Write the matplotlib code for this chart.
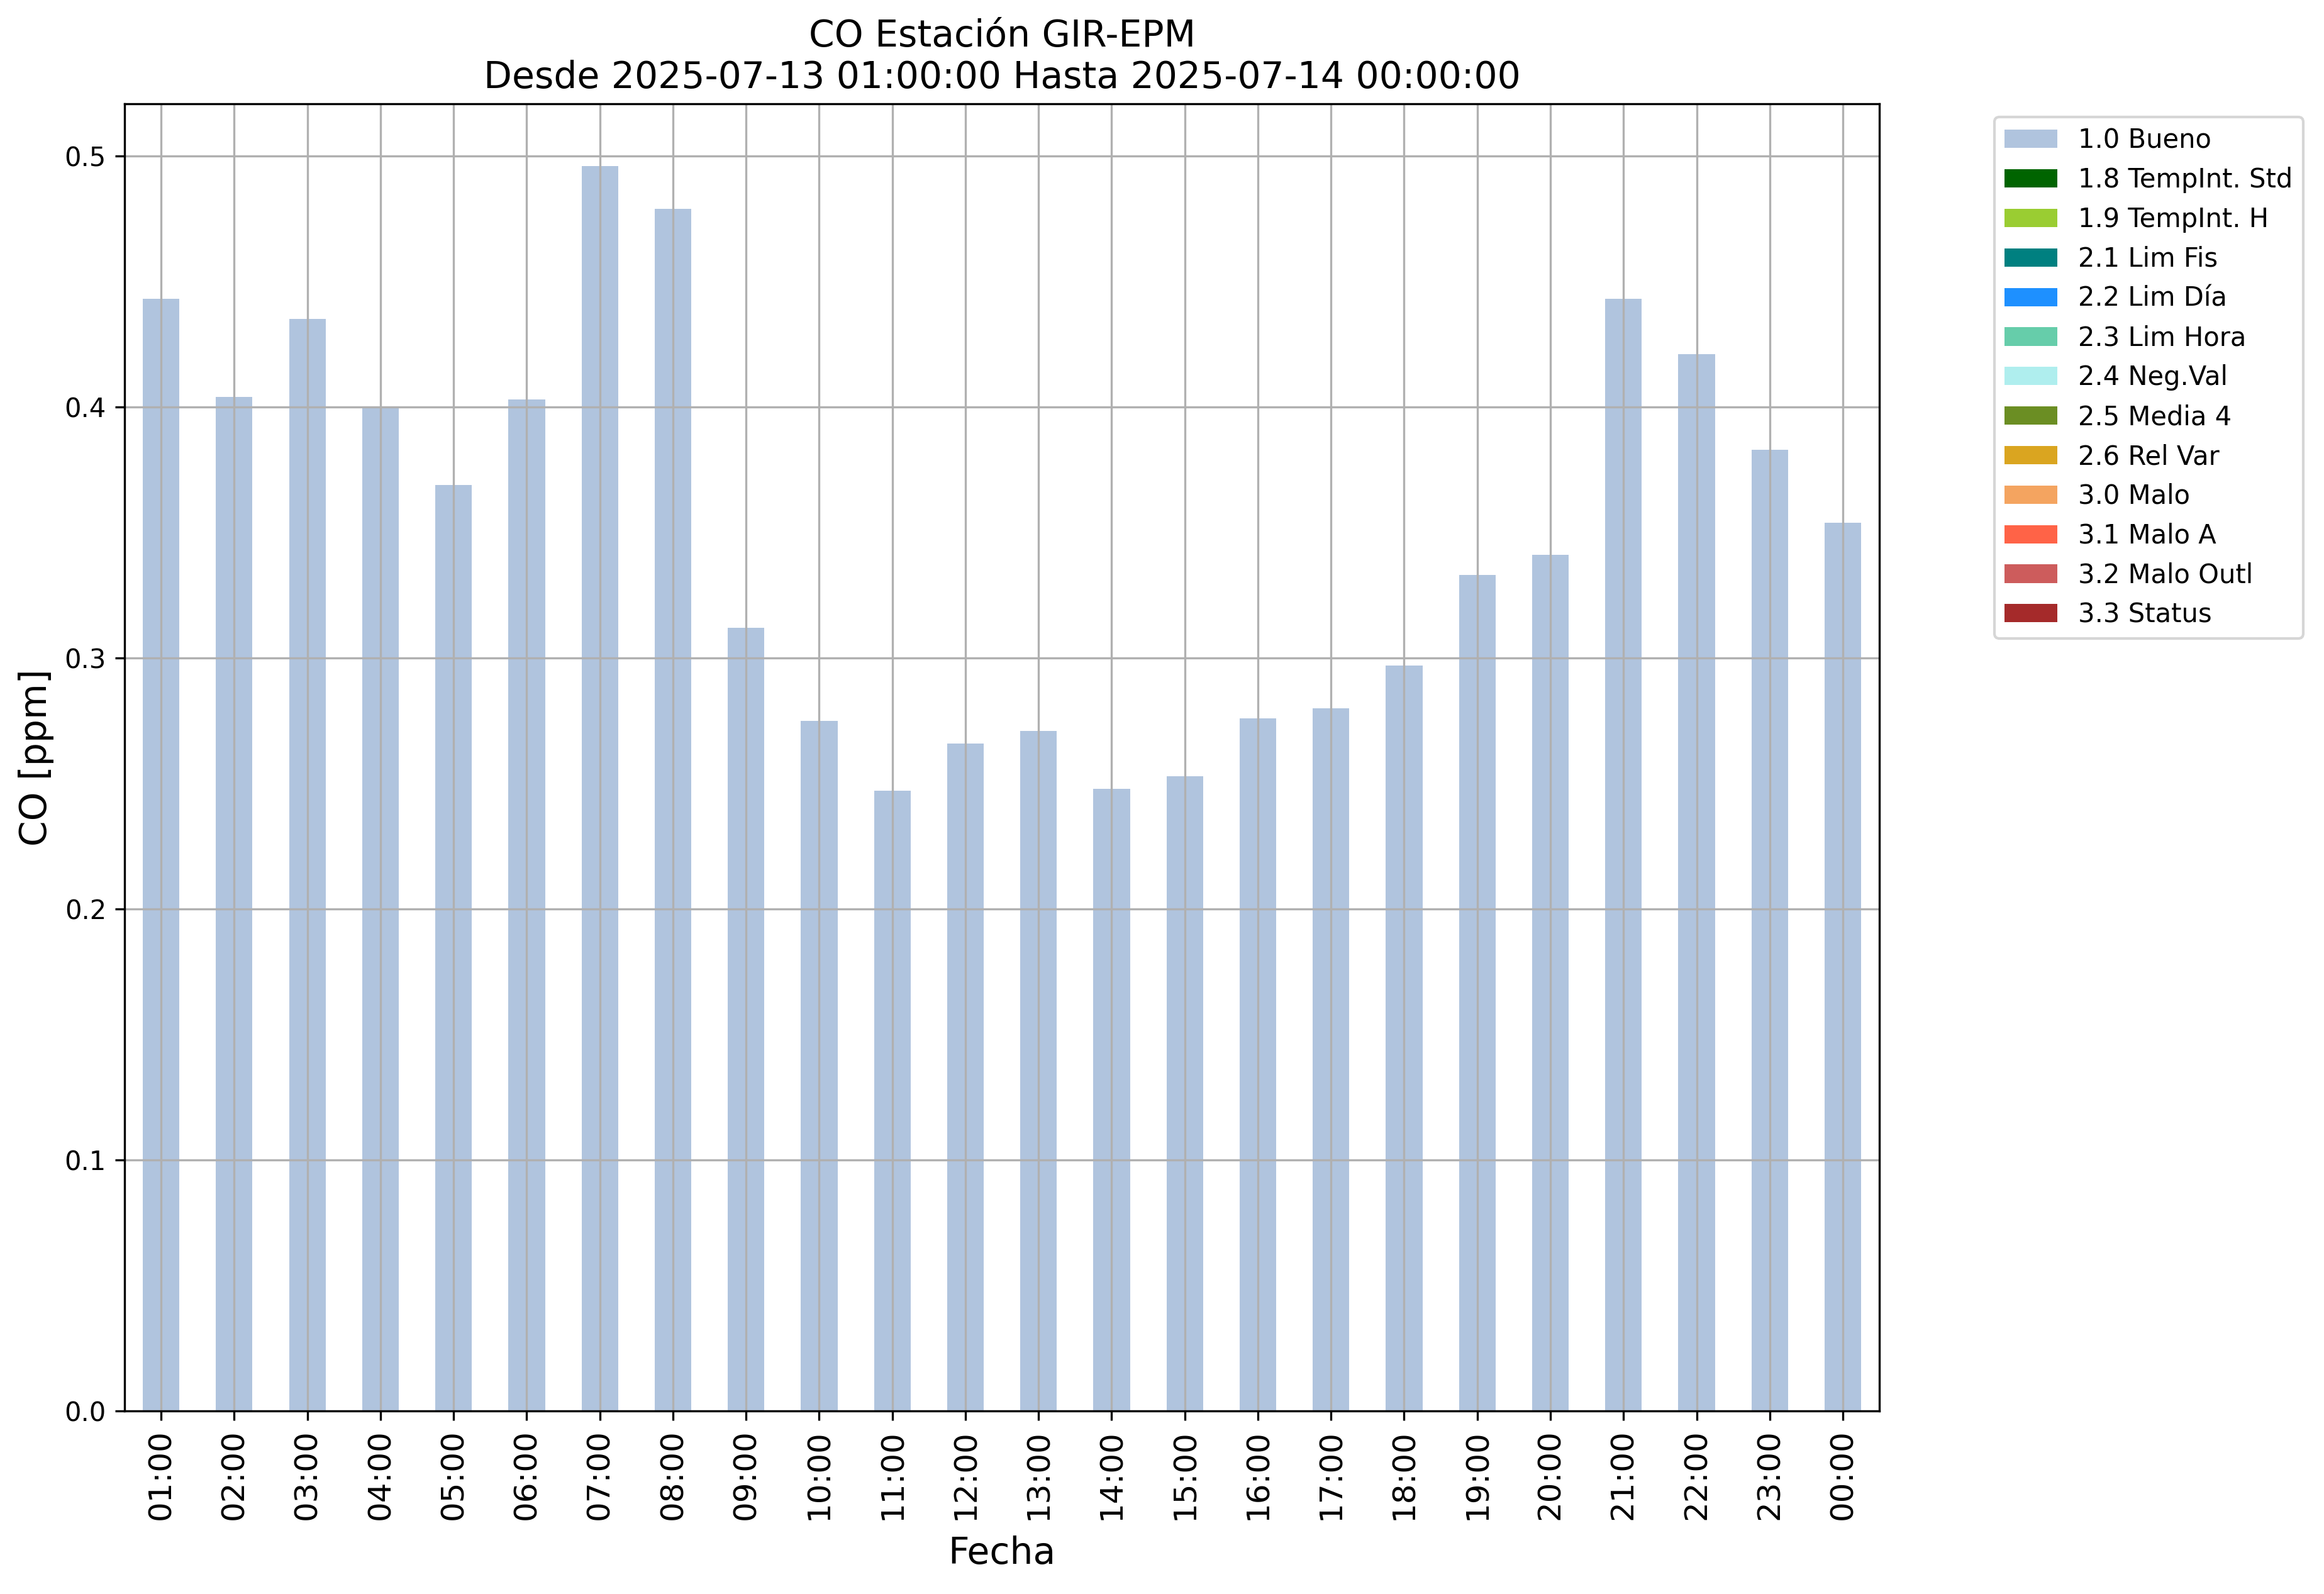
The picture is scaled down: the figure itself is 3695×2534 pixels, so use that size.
import numpy as np
import matplotlib
matplotlib.use('Agg')
import matplotlib.pyplot as plt

# hourly CO values (ppm), all flagged 1.0 Bueno
horas = ['01:00', '02:00', '03:00', '04:00', '05:00', '06:00', '07:00', '08:00',
         '09:00', '10:00', '11:00', '12:00', '13:00', '14:00', '15:00', '16:00',
         '17:00', '18:00', '19:00', '20:00', '21:00', '22:00', '23:00', '00:00']
co_bueno = [0.443, 0.404, 0.435, 0.400, 0.369, 0.403, 0.496, 0.479,
            0.312, 0.275, 0.247, 0.266, 0.271, 0.248, 0.253, 0.276,
            0.280, 0.297, 0.333, 0.341, 0.443, 0.421, 0.383, 0.354]
banderas = ['1.0 Bueno', '1.8 TempInt. Std', '1.9 TempInt. H', '2.1 Lim Fis',
            '2.2 Lim Día', '2.3 Lim Hora', '2.4 Neg.Val', '2.5 Media 4',
            '2.6 Rel Var', '3.0 Malo', '3.1 Malo A', '3.2 Malo Outl', '3.3 Status']

colores = ['lightsteelblue', 'darkgreen', 'yellowgreen', 'teal', 'dodgerblue',
           'mediumaquamarine', 'paleturquoise', 'olivedrab', 'goldenrod',
           'sandybrown', 'tomato', 'indianred', 'brown']

# values per flag (only Bueno has data)
valores = {b: np.zeros(len(horas)) for b in banderas}
valores['1.0 Bueno'] = np.array(co_bueno)

fig = plt.figure(figsize=(3695 / 300, 2534 / 300), dpi=300)
ax = fig.add_axes([0.0536, 0.1148, 0.8087 - 0.0536, 0.9349 - 0.1148])

x = np.arange(len(horas))
base = np.zeros(len(horas))
for b, c in zip(banderas, colores):
    ax.bar(x, valores[b], width=0.5, bottom=base, color=c, label=b, linewidth=0)
    base = base + valores[b]

ax.set_xlim(-0.5, len(horas) - 0.5)
ax.set_ylim(0, base.max() * 1.05)
ax.set_xticks(x)
ax.set_xticklabels(horas, rotation=90, fontsize=12)
ax.tick_params(axis='y', labelsize=10)
ax.grid(True)

ax.set_title('CO Estación GIR-EPM\nDesde 2025-07-13 01:00:00 Hasta 2025-07-14 00:00:00',
             fontsize=14)
ax.set_xlabel('Fecha', fontsize=14, labelpad=6)
ax.set_ylabel('CO [ppm]', fontsize=14)

ax.legend(bbox_to_anchor=(1.058, 1), loc='upper left', fontsize=10)

fig.savefig('out.png', dpi=300)
